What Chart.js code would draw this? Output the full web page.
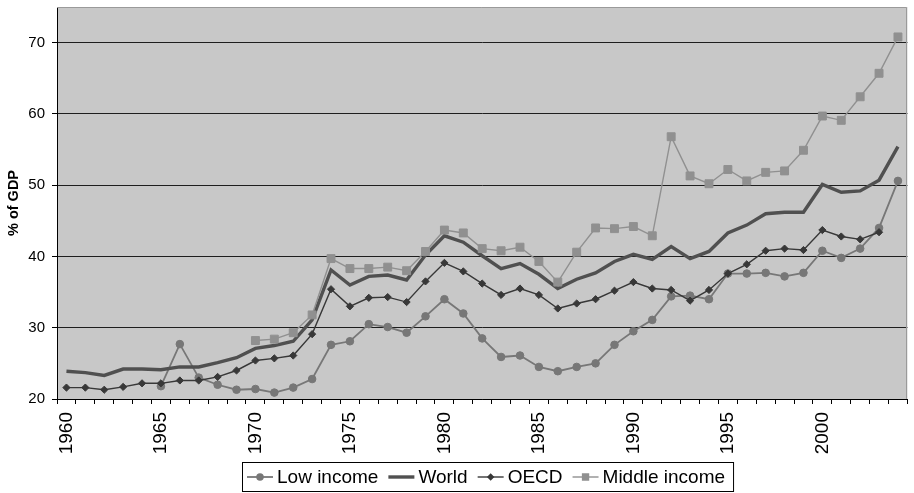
<!DOCTYPE html>
<html>
<head>
<meta charset="utf-8">
<script src="https://cdn.jsdelivr.net/npm/chart.js@4"></script>
<style>
  html, body { margin: 0; padding: 0; background: #ffffff; }
  canvas { display: block; }
</style>
</head>
<body>
<canvas id="chart" width="914" height="493"></canvas>
<script>
// Years on the category axis
const years = [];
for (let y = 1960; y <= 2004; y++) years.push(String(y));

// Series values, % of GDP (null = no data)
const lowIncome = [
  null, null, null, null, null,
  21.8, 27.7, 23.0, 22.0, 21.3,
  21.4, 20.9, 21.6, 22.8, 27.6, 28.1, 30.5, 30.1, 29.3, 31.6,
  34.0, 32.0, 28.5, 25.9, 26.1, 24.5, 23.9, 24.5, 25.0, 27.6,
  29.5, 31.1, 34.4, 34.5, 34.0, 37.6, 37.6, 37.7, 37.2, 37.7,
  40.8, 39.8, 41.1, 44.0, 50.6
];
const world = [
  23.9, 23.7, 23.3, 24.2, 24.2, 24.1, 24.5, 24.5, 25.1, 25.8,
  27.1, 27.5, 28.1, 31.1, 38.1, 36.0, 37.2, 37.4, 36.7, 40.2,
  42.9, 42.0, 40.1, 38.3, 39.0, 37.5, 35.5, 36.8, 37.7, 39.3,
  40.3, 39.6, 41.4, 39.7, 40.7, 43.3, 44.4, 46.0, 46.2, 46.2,
  50.1, 49.0, 49.2, 50.7, 55.4
];
const oecd = [
  21.6, 21.6, 21.3, 21.7, 22.2, 22.2, 22.6, 22.6, 23.1, 24.0,
  25.4, 25.7, 26.1, 29.1, 35.4, 33.0, 34.2, 34.3, 33.6, 36.5,
  39.1, 37.9, 36.2, 34.6, 35.5, 34.6, 32.7, 33.4, 34.0, 35.2,
  36.4, 35.5, 35.3, 33.8, 35.3, 37.6, 38.9, 40.8, 41.1, 40.9,
  43.7, 42.8, 42.4, 43.4, null
];
const middleIncome = [
  null, null, null, null, null, null, null, null, null, null,
  28.2, 28.4, 29.3, 31.8, 39.7, 38.3, 38.3, 38.5, 38.0, 40.7,
  43.7, 43.3, 41.1, 40.8, 41.3, 39.3, 36.4, 40.6, 44.0, 43.9,
  44.2, 42.9, 56.8, 51.3, 50.2, 52.2, 50.6, 51.8, 52.0, 54.9,
  59.7, 59.1, 62.4, 65.7, 70.8
];

// Value axis
const yMin = 20, yMax = 75, yStep = 10;

const FONT = '"Liberation Sans", Arial, sans-serif';

const seriesStyles = [
  { label: 'Low income',    data: lowIncome,    color: '#777777', width: 1.8, point: 'circle',  radius: 3.8, order: 4 },
  { label: 'World',         data: world,        color: '#505050', width: 3.4, point: false,     radius: 0,   order: 3 },
  { label: 'OECD',          data: oecd,         color: '#383838', width: 1.4, point: 'rectRot', radius: 3.6, order: 2 },
  { label: 'Middle income', data: middleIncome, color: '#909090', width: 1.4, point: 'rect',    radius: 5.6, order: 1 }
];

// Grey plot area plus the light frame on its top and right edges
const plotFrame = {
  id: 'plotFrame',
  beforeDraw(chart) {
    const { ctx, chartArea: a } = chart;
    ctx.save();
    ctx.fillStyle = '#ffffff';
    ctx.fillRect(0, 0, chart.width, chart.height);
    ctx.fillStyle = '#c8c8c8';
    ctx.fillRect(a.left, a.top, a.right - a.left, a.bottom - a.top);
    ctx.restore();
  },
  afterDraw(chart) {
    const { ctx, chartArea: a } = chart;
    ctx.save();
    ctx.strokeStyle = '#9a9a9a';
    ctx.lineWidth = 1;
    ctx.beginPath();
    ctx.moveTo(a.left, Math.round(a.top) + 0.5);
    ctx.lineTo(Math.round(a.right) - 0.5, Math.round(a.top) + 0.5);
    ctx.lineTo(Math.round(a.right) - 0.5, a.bottom);
    ctx.stroke();
    ctx.restore();
  }
};

// Boxed legend under the axis, each key showing the series line and marker
const boxedLegend = {
  id: 'boxedLegend',
  afterDraw(chart) {
    const { ctx } = chart;
    const cy = 477, symW = 26, gap = 4, itemGap = 10;
    let x = 247;
    ctx.save();
    ctx.font = '19px ' + FONT;
    ctx.textBaseline = 'middle';
    chart.data.datasets.forEach(ds => {
      ctx.strokeStyle = ds.borderColor;
      ctx.fillStyle = ds.borderColor;
      ctx.lineWidth = ds.borderWidth;
      ctx.beginPath();
      ctx.moveTo(x, cy);
      ctx.lineTo(x + symW, cy);
      ctx.stroke();
      if (ds.pointStyle) {
        Chart.helpers.drawPoint(ctx, {
          pointStyle: ds.pointStyle,
          radius: ds.pointRadius * 0.75,
          rotation: 0,
          borderWidth: 1
        }, x + symW / 2, cy);
      }
      x += symW + gap;
      ctx.fillStyle = '#000000';
      ctx.fillText(ds.label, x, cy + 1);
      x += ctx.measureText(ds.label).width + itemGap;
    });
    ctx.strokeStyle = '#000000';
    ctx.lineWidth = 1;
    ctx.strokeRect(242.5, 462.5, (x - itemGap + 8) - 242, 29);
    ctx.restore();
  }
};

new Chart(document.getElementById('chart'), {
  type: 'line',
  data: {
    labels: years,
    datasets: seriesStyles.map(s => ({
      label: s.label,
      data: s.data,
      borderColor: s.color,
      backgroundColor: s.color,
      borderWidth: s.width,
      pointStyle: s.point,
      pointRadius: s.radius,
      pointBorderWidth: 1,
      pointBackgroundColor: s.color,
      pointBorderColor: s.color,
      tension: 0,
      fill: false,
      order: s.order
    }))
  },
  options: {
    responsive: false,
    animation: false,
    devicePixelRatio: 1,
    layout: { padding: { top: 7, right: 2, left: 0, bottom: 0 } },
    plugins: {
      legend: { display: false },
      tooltip: { enabled: false }
    },
    scales: {
      x: {
        type: 'category',
        offset: true,
        grid: {
          offset: true,
          drawOnChartArea: false,
          drawTicks: true,
          tickLength: 5,
          tickColor: '#000000'
        },
        border: { color: '#000000', width: 1 },
        ticks: {
          autoSkip: false,
          minRotation: 90,
          maxRotation: 90,
          padding: 8,
          color: '#000000',
          font: { family: FONT, size: 19 },
          callback(value, index) {
            const y = Number(years[index]);
            return y % 5 === 0 ? years[index] : '';
          }
        },
        afterFit(scale) {
          scale.height = 94;
          scale.paddingLeft = 0;
          scale.paddingRight = 0;
        }
      },
      y: {
        min: yMin,
        max: yMax,
        grid: {
          color: '#1e1e1e',
          lineWidth: 1,
          drawTicks: true,
          tickLength: 5,
          tickColor: '#000000'
        },
        border: { color: '#000000', width: 1 },
        ticks: {
          stepSize: yStep,
          includeBounds: false,
          padding: 7,
          color: '#000000',
          font: { family: FONT, size: 15 }
        },
        title: {
          display: true,
          text: '% of GDP',
          color: '#000000',
          padding: { top: 5, bottom: 0 },
          font: { family: FONT, size: 14.5, weight: 'bold' }
        },
        afterFit(scale) {
          scale.width = 57;
          scale.paddingTop = 0;
          scale.paddingBottom = 0;
        }
      }
    }
  },
  plugins: [plotFrame, boxedLegend]
});
</script>
</body>
</html>
